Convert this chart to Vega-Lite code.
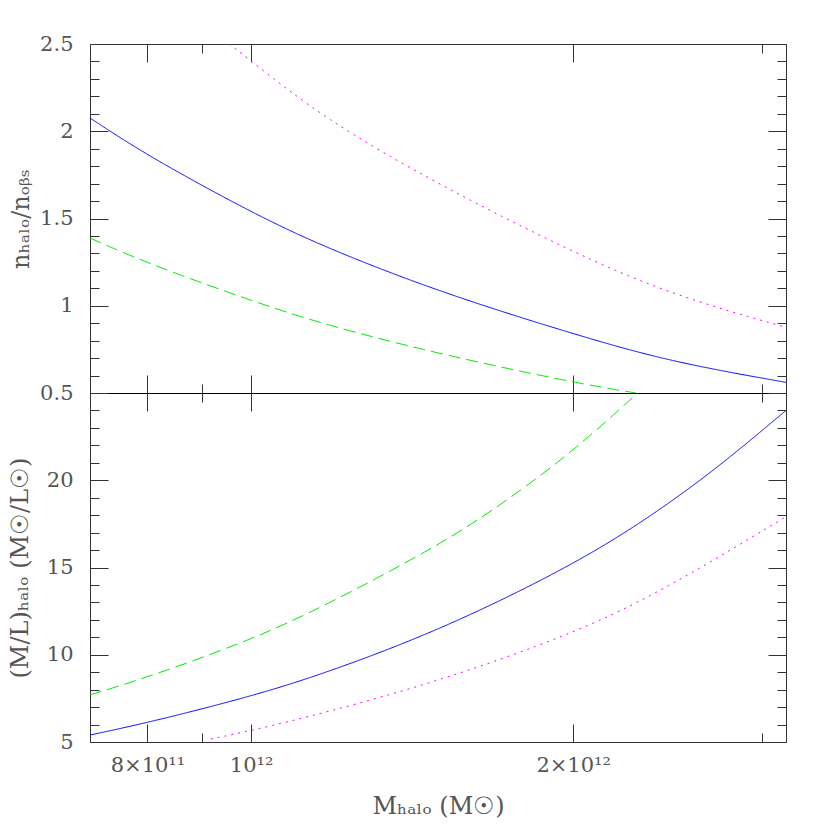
{
  "$schema": "https://vega.github.io/schema/vega-lite/v6.json",
  "padding": {"left": 8, "top": 33, "right": 42, "bottom": 10},
  "spacing": 0,
  "bounds": "flush",
  "config": {
    "view": {"stroke": null},
    "axis": {
      "domainColor": "#333", "tickColor": "#333", "tickWidth": 1, "domainWidth": 1,
      "labelFont": "DejaVu Serif", "labelFontSize": 21, "labelColor": "#555",
      "titleFont": "DejaVu Serif", "titleFontSize": 24, "titleColor": "#555", "titleFontWeight": "normal",
      "grid": false, "labelOverlap": false, "labelBound": false, "labelFlush": false
    }
  },
  "datasets": {
    "top": [
      {"s": "a", "M": 7.07e11, "v": 2.076}, {"s": "a", "M": 8.0e11, "v": 1.86}, {"s": "a", "M": 1.0e12, "v": 1.535},
      {"s": "a", "M": 1.168e12, "v": 1.338}, {"s": "a", "M": 1.502e12, "v": 1.077}, {"s": "a", "M": 2.0e12, "v": 0.838},
      {"s": "a", "M": 2.459e12, "v": 0.68}, {"s": "a", "M": 3.162e12, "v": 0.561},
      {"s": "b", "M": 7.07e11, "v": 1.388}, {"s": "b", "M": 8.0e11, "v": 1.243}, {"s": "b", "M": 1.0e12, "v": 1.029},
      {"s": "b", "M": 1.168e12, "v": 0.893}, {"s": "b", "M": 1.502e12, "v": 0.722}, {"s": "b", "M": 2.0e12, "v": 0.56},
      {"s": "b", "M": 2.289e12, "v": 0.5},
      {"s": "c", "M": 9.54e11, "v": 2.5}, {"s": "c", "M": 1.0e12, "v": 2.404}, {"s": "c", "M": 1.168e12, "v": 2.075},
      {"s": "c", "M": 1.502e12, "v": 1.688}, {"s": "c", "M": 2.0e12, "v": 1.305}, {"s": "c", "M": 2.459e12, "v": 1.067},
      {"s": "c", "M": 3.162e12, "v": 0.876}
    ],
    "bottom": [
      {"s": "a", "M": 7.07e11, "v": 5.4}, {"s": "a", "M": 8.0e11, "v": 6.1}, {"s": "a", "M": 1.0e12, "v": 7.61},
      {"s": "a", "M": 1.168e12, "v": 8.9}, {"s": "a", "M": 1.502e12, "v": 11.4}, {"s": "a", "M": 2.0e12, "v": 15.13},
      {"s": "a", "M": 2.372e12, "v": 17.98}, {"s": "a", "M": 2.738e12, "v": 20.78}, {"s": "a", "M": 3.162e12, "v": 24.0},
      {"s": "b", "M": 7.07e11, "v": 7.7}, {"s": "b", "M": 8.0e11, "v": 8.7}, {"s": "b", "M": 1.0e12, "v": 10.85},
      {"s": "b", "M": 1.168e12, "v": 12.75}, {"s": "b", "M": 1.502e12, "v": 16.3}, {"s": "b", "M": 1.718e12, "v": 18.65},
      {"s": "b", "M": 2.0e12, "v": 21.65}, {"s": "b", "M": 2.298e12, "v": 25.0},
      {"s": "c", "M": 9.17e11, "v": 5.17}, {"s": "c", "M": 1.0e12, "v": 5.65}, {"s": "c", "M": 1.168e12, "v": 6.65},
      {"s": "c", "M": 1.502e12, "v": 8.5}, {"s": "c", "M": 2.0e12, "v": 11.2}, {"s": "c", "M": 2.372e12, "v": 13.4},
      {"s": "c", "M": 2.738e12, "v": 15.6}, {"s": "c", "M": 3.162e12, "v": 17.91}
    ]
  },
  "vconcat": [
    {
      "width": 696, "height": 349,
      "data": {"name": "top"},
      "resolve": {"axis": {"x": "independent", "y": "independent"}},
      "layer": [
        {
          "mark": {"type": "line", "interpolate": "basis", "clip": true, "strokeWidth": 1},
          "encoding": {
            "x": {"field": "M", "type": "quantitative",
              "scale": {"type": "log", "domain": [7.07e11, 3.162e12], "nice": false},
              "axis": {"orient": "bottom", "title": null, "labels": false, "domainColor": "black", "domainWidth": 1.2,
                "values": [8e11, 9e11, 1e12, 2e12, 3e12],
                "tickSize": {"condition": {"test": "abs(datum.value-9e11)<1e9 || abs(datum.value-3e12)<1e9", "value": -9}, "value": -18}}},
            "y": {"field": "v", "type": "quantitative",
              "scale": {"domain": [0.5, 2.5], "nice": false, "zero": false},
              "axis": {"orient": "left", "title": "nₕₐₗₒ/nₒᵦₛ", "titlePadding": 6,
                "values": [0.5,0.6,0.7,0.8,0.9,1,1.1,1.2,1.3,1.4,1.5,1.6,1.7,1.8,1.9,2,2.1,2.2,2.3,2.4,2.5],
                "labelExpr": "abs(datum.value*2-round(datum.value*2))<1e-6 ? ''+datum.value : ''",
                "labelPadding": 35,
                "tickSize": {"condition": {"test": "abs(datum.value*2-round(datum.value*2))<1e-6", "value": -18}, "value": -9}}},
            "color": {"field": "s", "type": "nominal", "legend": null,
              "scale": {"domain": ["a", "b", "c"], "range": ["#0000ff", "#00ee00", "#ff00ff"]}},
            "strokeDash": {"field": "s", "type": "nominal", "legend": null,
              "scale": {"domain": ["a", "b", "c"], "range": [[1, 0], [12, 6], [2, 5]]}}
          }
        },
        {
          "mark": {"type": "line", "strokeOpacity": 0},
          "encoding": {
            "x": {"field": "M", "type": "quantitative",
              "axis": {"orient": "top", "title": null, "labels": false,
                "values": [8e11, 9e11, 1e12, 2e12, 3e12],
                "tickSize": {"condition": {"test": "abs(datum.value-9e11)<1e9 || abs(datum.value-3e12)<1e9", "value": -9}, "value": -18}}},
            "y": {"field": "v", "type": "quantitative",
              "axis": {"orient": "right", "title": null, "labels": false,
                "values": [0.5,0.6,0.7,0.8,0.9,1,1.1,1.2,1.3,1.4,1.5,1.6,1.7,1.8,1.9,2,2.1,2.2,2.3,2.4,2.5],
                "tickSize": {"condition": {"test": "abs(datum.value*2-round(datum.value*2))<1e-6", "value": -18}, "value": -9}}},
            "detail": {"field": "s"}
          }
        }
      ]
    },
    {
      "width": 696, "height": 349,
      "data": {"name": "bottom"},
      "resolve": {"axis": {"x": "independent", "y": "independent"}},
      "layer": [
        {
          "mark": {"type": "line", "interpolate": "basis", "clip": true, "strokeWidth": 1},
          "encoding": {
            "x": {"field": "M", "type": "quantitative",
              "scale": {"type": "log", "domain": [7.07e11, 3.162e12], "nice": false},
              "axis": {"orient": "bottom", "title": "Mₕₐₗₒ  (M☉)", "titlePadding": 10,
                "values": [8e11, 9e11, 1e12, 2e12, 3e12],
                "labelExpr": "abs(datum.value-8e11)<1e9 ? '8×10¹¹' : abs(datum.value-1e12)<1e9 ? '10¹²' : abs(datum.value-2e12)<1e9 ? '2×10¹²' : ''",
                "labelPadding": 30,
                "tickSize": {"condition": {"test": "abs(datum.value-9e11)<1e9 || abs(datum.value-3e12)<1e9", "value": -9}, "value": -18}}},
            "y": {"field": "v", "type": "quantitative",
              "scale": {"domain": [5, 25], "nice": false, "zero": false},
              "axis": {"orient": "left", "title": "(M/L)ₕₐₗₒ  (M☉/L☉)", "titlePadding": 14,
                "values": [5,6,7,8,9,10,11,12,13,14,15,16,17,18,19,20,21,22,23,24,25],
                "labelExpr": "datum.value % 5 == 0 && datum.value < 25 ? ''+datum.value : ''",
                "labelPadding": 35,
                "tickSize": {"condition": {"test": "datum.value % 5 == 0", "value": -18}, "value": -9}}},
            "color": {"field": "s", "type": "nominal", "legend": null,
              "scale": {"domain": ["a", "b", "c"], "range": ["#0000ff", "#00ee00", "#ff00ff"]}},
            "strokeDash": {"field": "s", "type": "nominal", "legend": null,
              "scale": {"domain": ["a", "b", "c"], "range": [[1, 0], [12, 6], [2, 5]]}}
          }
        },
        {
          "mark": {"type": "line", "strokeOpacity": 0},
          "encoding": {
            "x": {"field": "M", "type": "quantitative",
              "axis": {"orient": "top", "title": null, "labels": false, "domainColor": "black", "domainWidth": 1.2,
                "values": [8e11, 9e11, 1e12, 2e12, 3e12],
                "tickSize": {"condition": {"test": "abs(datum.value-9e11)<1e9 || abs(datum.value-3e12)<1e9", "value": -9}, "value": -18}}},
            "y": {"field": "v", "type": "quantitative",
              "axis": {"orient": "right", "title": null, "labels": false,
                "values": [5,6,7,8,9,10,11,12,13,14,15,16,17,18,19,20,21,22,23,24,25],
                "tickSize": {"condition": {"test": "datum.value % 5 == 0", "value": -18}, "value": -9}}},
            "detail": {"field": "s"}
          }
        }
      ]
    }
  ]
}
